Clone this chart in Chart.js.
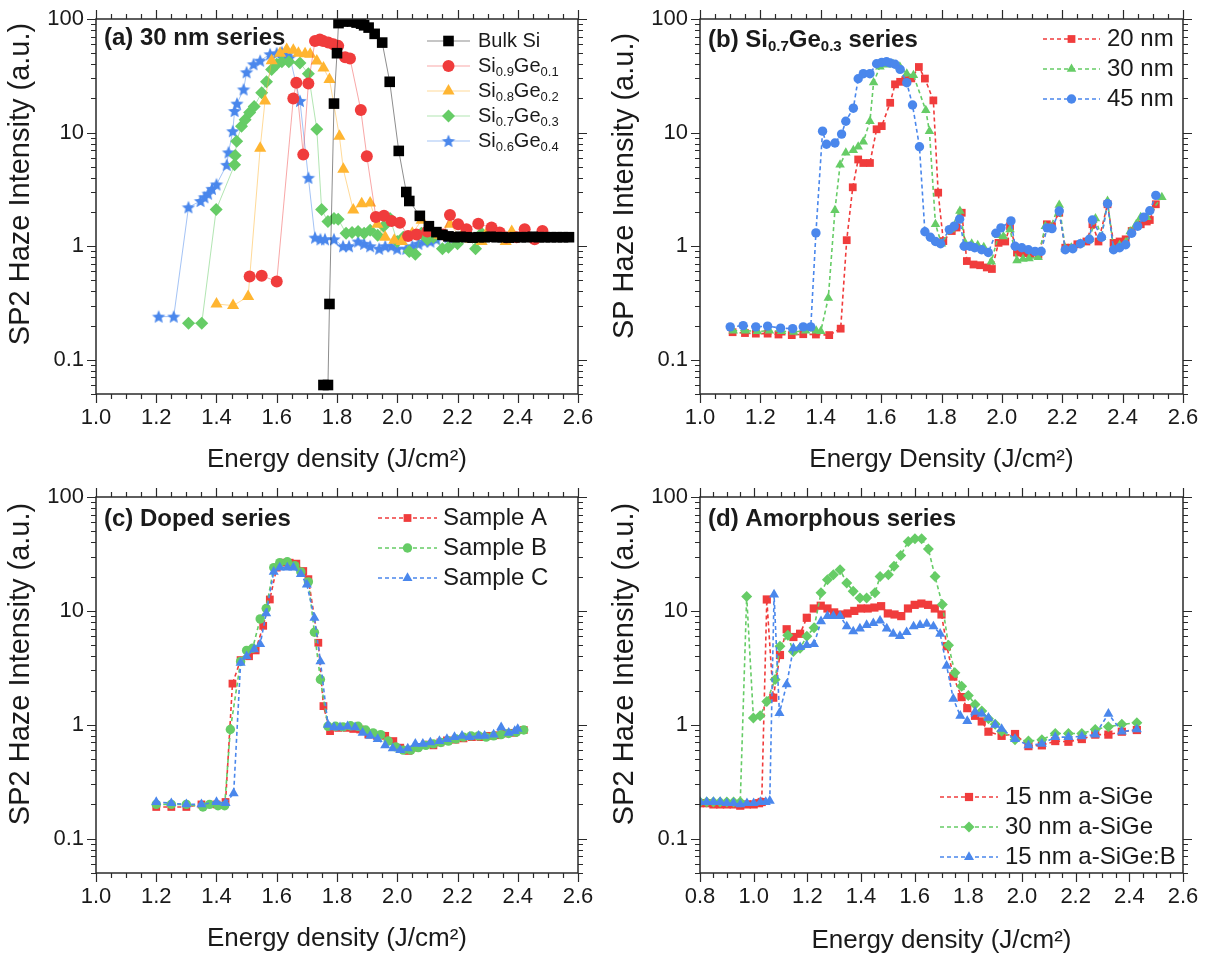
<!DOCTYPE html>
<html>
<head>
<meta charset="utf-8">
<title>SP2 haze intensity</title>
<script src="https://cdn.jsdelivr.net/npm/chart.js@4.4.1/dist/chart.umd.min.js"></script>
<style>
  body { margin: 0; background: #fff; }
  canvas { position: absolute; }
</style>
</head>
<body>
<canvas id="chartA" width="604" height="478" style="left:0;top:0"></canvas>
<canvas id="chartB" width="604" height="478" style="left:604px;top:0"></canvas>
<canvas id="chartC" width="604" height="478" style="left:0;top:478px"></canvas>
<canvas id="chartD" width="604" height="478" style="left:604px;top:478px"></canvas>
<script>
// tick values
const xTicksA = [1.0, 1.2, 1.4, 1.6, 1.8, 2.0, 2.2, 2.4, 2.6];
const xTicksD = [0.8, 1.0, 1.2, 1.4, 1.6, 1.8, 2.0, 2.2, 2.4, 2.6];
const yTicks = [0.1, 1, 10, 100];

// (a) 30 nm series
const aBulkX = [1.755,1.77,1.775,1.79,1.80,1.805,1.82,1.835,1.85,1.865,1.88,1.89,1.905,1.925,1.95,1.975,2.005,2.03,2.04,2.075,2.105,2.13,2.15,2.17,2.19,2.21,2.23,2.25,2.27,2.29,2.31,2.33,2.35,2.37,2.39,2.41,2.43,2.45,2.47,2.49,2.51,2.53,2.55,2.57];
const aBulkY = [0.06,0.06,0.31,18,50,92,95,96,95,93,91,88,84,74,62,28,6.9,3.0,2.5,1.85,1.5,1.33,1.26,1.22,1.2,1.21,1.2,1.19,1.2,1.2,1.21,1.2,1.2,1.19,1.2,1.2,1.2,1.21,1.2,1.2,1.2,1.2,1.2,1.2];
const aGe10X = [1.51,1.55,1.60,1.655,1.665,1.688,1.705,1.727,1.743,1.754,1.771,1.788,1.804,1.827,1.843,1.879,1.899,1.929,1.956,1.981,2.009,2.036,2.064,2.10,2.152,2.175,2.202,2.23,2.269,2.313,2.34,2.362,2.396,2.423,2.456,2.482];
const aGe10Y = [0.54,0.55,0.49,20,27.5,6.4,27,64,66,64,62,60,58,46,45,15.8,6.2,1.81,1.85,1.67,1.61,1.23,1.27,1.35,1.27,1.88,1.56,1.41,1.58,1.46,1.32,1.19,1.2,1.41,1.15,1.36];
const aGe20X = [1.40,1.455,1.505,1.545,1.561,1.583,1.611,1.633,1.655,1.672,1.694,1.711,1.733,1.755,1.775,1.808,1.821,1.854,1.882,1.91,1.934,1.96,1.99,2.015,2.05,2.081,2.114,2.14,2.175,2.21,2.245,2.28,2.30,2.33,2.36,2.38];
const aGe20Y = [0.31,0.30,0.36,7.3,19,43,50,54,53,50,49.5,49,42.6,37,29.4,9.3,4.75,2.08,2.37,2.4,1.56,1.2,1.13,1.1,1.3,1.69,1.36,1.25,1.56,1.2,1.15,1.1,1.35,1.2,1.1,1.35];
const aGe30X = [1.307,1.351,1.399,1.46,1.462,1.467,1.483,1.495,1.51,1.525,1.55,1.566,1.583,1.60,1.617,1.64,1.677,1.705,1.733,1.749,1.77,1.79,1.804,1.83,1.85,1.87,1.89,1.91,1.935,1.955,1.976,2.00,2.02,2.04,2.06,2.08,2.10,2.12,2.15,2.17,2.20,2.23,2.26,2.28];
const aGe30Y = [0.21,0.21,2.1,5.2,6.3,8.4,11.4,13,15,17,22.4,28,36,40,42,42,41,33,10.7,2.1,1.65,1.75,1.73,1.3,1.32,1.35,1.3,1.38,1.25,1.5,1.75,1.1,1.2,0.9,0.85,1.3,1.15,1.2,0.95,0.98,1.05,1.3,0.95,1.3];
const aGe40X = [1.208,1.258,1.307,1.347,1.36,1.372,1.385,1.40,1.434,1.44,1.454,1.46,1.468,1.49,1.50,1.523,1.545,1.578,1.60,1.617,1.633,1.644,1.677,1.705,1.727,1.745,1.76,1.79,1.82,1.84,1.87,1.89,1.91,1.94,1.96,1.98,2.00,2.03,2.05,2.07,2.09,2.11,2.13,2.15,2.17];
const aGe40Y = [0.24,0.24,2.2,2.5,2.7,2.9,3.2,3.5,5.2,6.7,10.3,15.5,18,24,34,40,43,49,50,51,48,46,19,4.0,1.19,1.15,1.15,1.15,1.0,1.0,1.1,1.05,1.0,0.95,1.0,1.0,0.95,0.95,1.0,1.05,1.1,1.1,1.15,1.25,1.2];

// (b) Si0.7Ge0.3 series
const b20X = [1.108,1.149,1.185,1.224,1.26,1.304,1.342,1.384,1.428,1.466,1.486,1.506,1.524,1.541,1.563,1.585,1.602,1.63,1.646,1.663,1.68,1.70,1.725,1.745,1.773,1.789,1.806,1.834,1.85,1.867,1.884,1.906,1.928,1.95,1.967,1.989,2.011,2.027,2.05,2.072,2.094,2.121,2.149,2.166,2.19,2.21,2.23,2.25,2.28,2.30,2.32,2.35,2.37,2.39,2.41,2.43,2.46,2.48,2.49,2.51];
const b20Y = [0.175,0.172,0.17,0.17,0.167,0.165,0.168,0.167,0.165,0.188,1.13,3.3,5.8,5.4,5.4,10.7,11.4,18.3,26.6,28,29,30,37.8,29.9,19.2,2.96,1.11,1.36,1.46,1.97,0.74,0.69,0.68,0.65,0.63,1.07,1.1,1.5,0.88,0.87,0.85,0.84,1.56,1.5,1.97,0.97,0.97,1.04,1.1,1.56,1.1,2.34,1.07,1.1,1.15,1.36,1.56,1.65,1.7,2.34];
const b30X = [1.11,1.15,1.19,1.23,1.27,1.31,1.35,1.385,1.40,1.425,1.447,1.464,1.483,1.508,1.524,1.541,1.563,1.575,1.596,1.618,1.64,1.662,1.685,1.707,1.748,1.76,1.78,1.80,1.83,1.861,1.878,1.90,1.92,1.94,1.965,1.989,2.005,2.027,2.05,2.07,2.09,2.12,2.144,2.16,2.19,2.21,2.23,2.26,2.29,2.31,2.33,2.35,2.37,2.39,2.41,2.425,2.445,2.46,2.48,2.53];
const b30Y = [0.18,0.18,0.178,0.18,0.178,0.176,0.18,0.18,0.178,0.35,2.07,5.2,6.65,7.0,7.5,8.3,12.6,27.6,38,39.5,40,38,33,32,15.7,10.3,1.56,1.05,1.4,2.04,1.07,1.05,1.02,0.98,0.73,1.25,1.22,1.4,0.75,0.77,0.78,0.8,1.5,1.45,2.3,0.95,0.97,1.05,1.15,1.75,1.2,2.5,0.95,1.02,1.08,1.35,1.56,1.8,1.8,2.7];
const b45X = [1.10,1.143,1.185,1.224,1.267,1.307,1.342,1.367,1.384,1.406,1.419,1.447,1.469,1.483,1.508,1.524,1.541,1.563,1.585,1.602,1.618,1.63,1.646,1.663,1.685,1.704,1.727,1.745,1.763,1.78,1.797,1.826,1.842,1.86,1.875,1.894,1.91,1.933,1.955,1.98,1.997,2.03,2.044,2.066,2.088,2.11,2.13,2.15,2.166,2.19,2.21,2.235,2.26,2.29,2.30,2.33,2.35,2.37,2.39,2.41,2.43,2.45,2.47,2.49,2.51];
const b45Y = [0.195,0.2,0.195,0.198,0.19,0.188,0.195,0.195,1.31,10.3,7.9,8.1,9.7,12.6,16.4,29.8,33,33,40.4,41.5,42,41,40,36,27.5,17.5,7.5,1.34,1.2,1.1,1.05,1.4,1.5,1.73,1.0,1.0,0.97,0.93,0.88,1.3,1.45,1.67,1.0,0.97,0.93,0.9,0.9,1.45,1.43,2.04,0.93,0.95,1.05,1.15,1.7,1.2,2.37,0.93,0.97,1.03,1.3,1.5,1.8,2.05,2.8];

// (c) doped series
const cAX = [1.2,1.25,1.3,1.35,1.40,1.43,1.453,1.48,1.508,1.53,1.555,1.577,1.60,1.62,1.643,1.665,1.688,1.705,1.738,1.755,1.777,1.804,1.832,1.854,1.877,1.904,1.932,1.96,1.987,2.01,2.037,2.065,2.093,2.12,2.143,2.165,2.193,2.22,2.248,2.276,2.303,2.331,2.359,2.387,2.42];
const cAY = [0.19,0.19,0.19,0.2,0.2,0.21,2.3,3.7,4.0,4.5,7.4,12.6,24,26.5,26.5,26,22.4,19,5.25,1.46,0.88,0.94,0.94,0.92,0.91,0.82,0.8,0.8,0.72,0.63,0.59,0.63,0.67,0.66,0.7,0.73,0.74,0.76,0.78,0.78,0.8,0.81,0.84,0.85,0.9];
const cBX = [1.2,1.25,1.3,1.355,1.377,1.405,1.427,1.446,1.48,1.50,1.52,1.545,1.565,1.59,1.61,1.635,1.66,1.68,1.705,1.725,1.745,1.77,1.795,1.82,1.845,1.87,1.895,1.92,1.945,1.97,1.995,2.02,2.045,2.07,2.095,2.12,2.145,2.17,2.195,2.22,2.245,2.27,2.295,2.32,2.345,2.37,2.395,2.42];
const cBY = [0.2,0.2,0.2,0.19,0.2,0.195,0.195,0.91,3.6,4.5,4.7,8.5,10.5,24,26.5,27,25,22,18,6.5,2.5,0.97,0.97,0.96,0.98,0.97,0.9,0.85,0.82,0.72,0.64,0.6,0.6,0.63,0.66,0.68,0.7,0.72,0.75,0.78,0.8,0.8,0.78,0.8,0.82,0.84,0.86,0.9];
const cCX = [1.2,1.25,1.30,1.35,1.40,1.43,1.457,1.48,1.50,1.525,1.545,1.565,1.59,1.61,1.635,1.655,1.68,1.70,1.725,1.745,1.77,1.79,1.81,1.835,1.86,1.885,1.91,1.935,1.96,1.985,2.01,2.035,2.06,2.085,2.11,2.14,2.165,2.19,2.215,2.24,2.27,2.29,2.32,2.345,2.37,2.39,2.40];
const cCY = [0.21,0.205,0.2,0.2,0.21,0.205,0.25,3.5,4.0,4.6,5.1,9.5,22,24,24,24,21,17,8.7,3.6,1.0,0.95,0.95,0.97,0.95,0.85,0.8,0.75,0.66,0.62,0.6,0.62,0.68,0.68,0.7,0.72,0.75,0.78,0.8,0.78,0.8,0.8,0.82,0.95,0.85,0.88,0.92];

// (d) amorphous series
const d15X = [0.80,0.825,0.85,0.875,0.90,0.925,0.95,0.975,1.0,1.02,1.03,1.049,1.073,1.098,1.123,1.148,1.173,1.198,1.224,1.25,1.275,1.30,1.325,1.35,1.375,1.40,1.425,1.45,1.475,1.50,1.525,1.55,1.575,1.60,1.625,1.65,1.675,1.70,1.72,1.744,1.775,1.796,1.825,1.85,1.875,1.924,1.974,2.024,2.074,2.124,2.173,2.223,2.273,2.322,2.372,2.428];
const d15Y = [0.205,0.205,0.2,0.2,0.2,0.2,0.195,0.2,0.2,0.205,0.21,12.6,1.73,4.1,6.9,5.9,6.3,8.7,10.5,11.1,10.5,9.7,9.3,9.5,10,10.5,10.5,10.7,11,9.5,9.3,9,10.5,11.3,11.6,11.3,10.5,9.3,4.9,2.65,1.75,1.4,1.2,1.07,0.87,0.8,0.83,0.65,0.66,0.72,0.71,0.75,0.82,0.82,0.87,0.9];
const d30X = [0.80,0.825,0.85,0.875,0.90,0.925,0.95,0.974,0.999,1.024,1.049,1.08,1.098,1.127,1.148,1.173,1.198,1.225,1.251,1.275,1.297,1.322,1.347,1.371,1.396,1.421,1.452,1.471,1.502,1.523,1.548,1.576,1.601,1.626,1.651,1.676,1.703,1.726,1.75,1.775,1.80,1.825,1.85,1.875,1.90,1.924,1.974,2.024,2.074,2.124,2.173,2.223,2.273,2.322,2.372,2.428];
const d30Y = [0.21,0.21,0.21,0.21,0.21,0.21,0.21,13.4,1.15,1.2,1.6,2.5,4.9,6.1,4.4,4.7,6.0,7.1,14.4,18.8,20.8,23,17.6,14.9,13,13,14.4,20,20.8,24.7,30.6,40.7,43,43,35,20,11.4,5.0,2.86,2.18,1.81,1.51,1.32,1.13,1.01,0.88,0.74,0.72,0.74,0.84,0.84,0.84,0.91,0.96,1.01,1.04];
const d15bX = [0.80,0.825,0.85,0.875,0.90,0.925,0.95,0.975,1.0,1.025,1.045,1.06,1.076,1.096,1.123,1.148,1.173,1.198,1.225,1.251,1.275,1.297,1.322,1.347,1.371,1.396,1.421,1.446,1.471,1.496,1.52,1.545,1.57,1.596,1.62,1.645,1.67,1.695,1.719,1.744,1.77,1.796,1.825,1.85,1.875,1.90,1.924,1.974,2.024,2.074,2.124,2.173,2.223,2.273,2.322,2.372,2.428];
const d15bY = [0.21,0.21,0.21,0.21,0.205,0.205,0.2,0.205,0.205,0.21,0.21,0.215,13.9,1.27,2.26,4.7,4.8,5.0,5.1,8.1,9.0,9.0,9.0,7.3,6.6,7.0,7.5,7.8,8.2,7.0,6.3,6.0,6.5,7.3,7.5,7.7,7.3,6.3,3.3,1.69,1.2,1.08,1.3,1.25,1.15,1.0,0.92,0.75,0.66,0.68,0.78,0.78,0.79,0.82,1.25,0.87,0.91];

const FONT = '"Liberation Sans", Arial, Helvetica, sans-serif';
const INK = '#1a1a1a';
const RED = '#f03c3c';
const GREEN = '#66cc66';
const BLUE = '#4a87ec';
const ORANGE = '#ffb531';
const BLACK = '#000000';

function starImage(color, r) {
  const c = document.createElement('canvas');
  c.width = c.height = 2 * r + 2;
  const g = c.getContext('2d');
  g.beginPath();
  for (let i = 0; i < 10; i++) {
    const rr = i % 2 ? r * 0.45 : r;
    const ang = -Math.PI / 2 + i * Math.PI / 5;
    g.lineTo(r + 1 + rr * Math.cos(ang), r + 1.6 + rr * Math.sin(ang));
  }
  g.closePath();
  g.fillStyle = color;
  g.fill();
  return c;
}

function pts(xs, ys) {
  return xs.map((x, i) => ({ x: x, y: ys[i] }));
}

function series(label, xs, ys, color, style, radius, line, order) {
  return {
    label: label,
    data: pts(xs, ys),
    showLine: true,
    borderColor: line.color,
    borderWidth: line.width,
    borderDash: line.dash,
    pointStyle: style,
    pointRadius: radius,
    pointHoverRadius: radius,
    pointBackgroundColor: color,
    pointBorderColor: color,
    pointBorderWidth: 0,
    order: order
  };
}

const solid = c => ({ color: c, width: 1, dash: [] });
const dashed = c => ({ color: c, width: 1.6, dash: [4, 3] });

// per panel texts and legend placement
const panels = {
  chartA: {
    title: [['(a) 30 nm series', 0]], tx: 104, ty: 38,
    yTitle: 'SP2 Haze Intensity (a.u.)', yx: 21, yy: 184,
    legend: { x0: 427, x1: 470, xt: 478, rows: [41, 66, 91, 116, 141], size: 20,
      labels: [[['Bulk Si', 0]],
               [['Si', 0], ['0.9', 1], ['Ge', 0], ['0.1', 1]],
               [['Si', 0], ['0.8', 1], ['Ge', 0], ['0.2', 1]],
               [['Si', 0], ['0.7', 1], ['Ge', 0], ['0.3', 1]],
               [['Si', 0], ['0.6', 1], ['Ge', 0], ['0.4', 1]]] }
  },
  chartB: {
    title: [['(b) Si', 0], ['0.7', 1], ['Ge', 0], ['0.3', 1], [' series', 0]], tx: 104, ty: 40,
    yTitle: 'SP Haze Intensity (a.u.)', yx: 21, yy: 186,
    legend: { x0: 439, x1: 496, xt: 503, rows: [39, 69, 99], size: 24,
      labels: [[['20 nm', 0]], [['30 nm', 0]], [['45 nm', 0]]] }
  },
  chartC: {
    title: [['(c) Doped series', 0]], tx: 104, ty: 41,
    yTitle: 'SP2 Haze Intensity (a.u.)', yx: 21, yy: 186,
    legend: { x0: 378, x1: 437, xt: 443, rows: [40, 70, 100], size: 24,
      labels: [[['Sample A', 0]], [['Sample B', 0]], [['Sample C', 0]]] }
  },
  chartD: {
    title: [['(d) Amorphous series', 0]], tx: 104, ty: 41,
    yTitle: 'SP2 Haze Intensity (a.u.)', yx: 21, yy: 186,
    legend: { x0: 336, x1: 394, xt: 401, rows: [319, 349, 379], size: 24,
      labels: [[['15 nm a-SiGe', 0]], [['30 nm a-SiGe', 0]], [['15 nm a-SiGe:B', 0]]] }
  }
};

function drawRich(ctx, segs, x, y, size, weight) {
  let cx = x;
  for (const [t, sub] of segs) {
    const fs = sub ? Math.round(size * 0.64) : size;
    ctx.font = weight + ' ' + fs + 'px ' + FONT;
    ctx.fillText(t, cx, sub ? y + size * 0.3 : y);
    cx += ctx.measureText(t).width;
  }
}

function drawMarker(ctx, ds, x, y) {
  ctx.fillStyle = ds.pointBackgroundColor;
  if (Chart.helpers && Chart.helpers.drawPoint) {
    Chart.helpers.drawPoint(ctx, { pointStyle: ds.pointStyle, radius: ds.pointRadius, rotation: 0, borderWidth: 0 }, x, y);
  } else {
    ctx.beginPath();
    ctx.arc(x, y, ds.pointRadius || 5, 0, Math.PI * 2);
    ctx.fill();
  }
}

const framePlugin = {
  id: 'frame',
  afterDraw(chart) {
    const cfg = panels[chart.canvas.id];
    const ctx = chart.ctx;
    const a = chart.chartArea;
    const xs = chart.scales.x;
    const ys = chart.scales.y;
    ctx.save();
    ctx.strokeStyle = '#2a2a2a';
    ctx.lineWidth = 1.5;
    ctx.strokeRect(a.left, a.top, a.right - a.left, a.bottom - a.top);

    // outward ticks on all four sides
    ctx.lineWidth = 1.2;
    ctx.beginPath();
    const n = Math.round((xs.max - xs.min) / 0.05);
    for (let i = 0; i <= n; i++) {
      const px = Math.round(xs.getPixelForValue(xs.min + i * 0.05)) + 0.5;
      const len = i % 4 === 0 ? 9 : 5;
      ctx.moveTo(px, a.bottom); ctx.lineTo(px, a.bottom + len);
      ctx.moveTo(px, a.top); ctx.lineTo(px, a.top - len);
    }
    for (let e = -2; e <= 2; e++) {
      for (let m = 1; m <= 9; m++) {
        const v = m * Math.pow(10, e);
        if (v < ys.min * 0.999 || v > ys.max * 1.001) continue;
        const py = Math.round(ys.getPixelForValue(v)) + 0.5;
        const len = m === 1 ? 9 : 5;
        ctx.moveTo(a.left, py); ctx.lineTo(a.left - len, py);
        ctx.moveTo(a.right, py); ctx.lineTo(a.right + len, py);
      }
    }
    ctx.stroke();

    ctx.fillStyle = INK;
    ctx.textBaseline = 'middle';
    ctx.textAlign = 'left';
    drawRich(ctx, cfg.title, cfg.tx, cfg.ty, 24, 'bold');

    // y axis title
    ctx.save();
    ctx.translate(cfg.yx, cfg.yy);
    ctx.rotate(-Math.PI / 2);
    ctx.textAlign = 'center';
    ctx.font = '29px ' + FONT;
    ctx.fillText(cfg.yTitle, 0, 0);
    ctx.restore();

    // legend: line sample, marker, label
    const lg = cfg.legend;
    chart.data.datasets.forEach((ds, i) => {
      const y = lg.rows[i];
      ctx.save();
      ctx.strokeStyle = ds.borderColor;
      ctx.lineWidth = ds.borderWidth;
      ctx.setLineDash(ds.borderDash || []);
      ctx.beginPath();
      ctx.moveTo(lg.x0, y); ctx.lineTo(lg.x1, y);
      ctx.stroke();
      ctx.restore();
      drawMarker(ctx, ds, (lg.x0 + lg.x1) / 2, y);
      ctx.fillStyle = INK;
      drawRich(ctx, lg.labels[i], lg.xt, y, lg.size, 'normal');
    });
    ctx.restore();
  }
};

// invisible tick marks only push the labels away from the frame
const hiddenTicks = len => ({ display: true, drawOnChartArea: false, drawTicks: true,
                              tickLength: len, color: 'rgba(0,0,0,0)' });

function makeChart(id, datasets, xmin, xticks, box, xTitle) {
  return new Chart(document.getElementById(id), {
    type: 'scatter',
    data: { datasets: datasets },
    options: {
      responsive: false,
      animation: false,
      devicePixelRatio: 1,
      events: [],
      layout: { padding: { left: 0, top: box.top, right: box.right, bottom: 0 } },
      plugins: { legend: { display: false }, tooltip: { enabled: false } },
      scales: {
        x: {
          type: 'linear', min: xmin, max: 2.6,
          afterBuildTicks: s => { s.ticks = xticks.map(v => ({ value: v })); },
          afterFit: s => { s.height = box.xh; },
          grid: hiddenTicks(11),
          border: { display: false },
          ticks: { padding: 0, color: INK, autoSkip: false, maxRotation: 0,
                   font: { family: FONT, size: 22 }, callback: v => v.toFixed(1) },
          title: { display: true, text: xTitle, color: INK,
                   font: { family: FONT, size: 26 }, padding: { top: 0, bottom: box.tb } }
        },
        y: {
          type: 'logarithmic', min: 0.05, max: 100,
          afterBuildTicks: s => { s.ticks = yTicks.map(v => ({ value: v })); },
          afterFit: s => { s.width = 96; },
          grid: hiddenTicks(12),
          border: { display: false },
          ticks: { padding: 0, color: INK, autoSkip: false,
                   font: { family: FONT, size: 22 }, callback: v => String(v) }
        }
      }
    },
    plugins: [framePlugin]
  });
}

const star = starImage(BLUE, 7);

makeChart('chartA', [
  series('Bulk Si', aBulkX, aBulkY, BLACK, 'rect', 7.5, solid('rgba(0,0,0,0.45)'), 0),
  series('Si0.9Ge0.1', aGe10X, aGe10Y, RED, 'circle', 6, solid('rgba(240,60,60,0.45)'), 1),
  series('Si0.8Ge0.2', aGe20X, aGe20Y, ORANGE, 'triangle', 7, solid('rgba(255,181,49,0.5)'), 2),
  series('Si0.7Ge0.3', aGe30X, aGe30Y, GREEN, 'rectRot', 6.5, solid('rgba(102,204,102,0.5)'), 3),
  series('Si0.6Ge0.4', aGe40X, aGe40Y, BLUE, star, 6, solid('rgba(74,135,236,0.5)'), 4)
], 1.0, xTicksA, { top: 19, right: 26, xh: 84, tb: 3 }, 'Energy density (J/cm²)');

makeChart('chartB', [
  series('20 nm', b20X, b20Y, RED, 'rect', 5.5, dashed(RED), 2),
  series('30 nm', b30X, b30Y, GREEN, 'triangle', 5.5, dashed(GREEN), 1),
  series('45 nm', b45X, b45Y, BLUE, 'circle', 4.7, dashed(BLUE), 0)
], 1.0, xTicksA, { top: 19, right: 25, xh: 84, tb: 3 }, 'Energy Density (J/cm²)');

makeChart('chartC', [
  series('Sample A', cAX, cAY, RED, 'rect', 5.5, dashed(RED), 2),
  series('Sample B', cBX, cBY, GREEN, 'circle', 4.7, dashed(GREEN), 1),
  series('Sample C', cCX, cCY, BLUE, 'triangle', 5.8, dashed(BLUE), 0)
], 1.0, xTicksA, { top: 19, right: 26, xh: 83, tb: 2 }, 'Energy density (J/cm²)');

makeChart('chartD', [
  series('15 nm a-SiGe', d15X, d15Y, RED, 'rect', 5.8, dashed(RED), 2),
  series('30 nm a-SiGe', d30X, d30Y, GREEN, 'rectRot', 5.5, dashed(GREEN), 1),
  series('15 nm a-SiGe:B', d15bX, d15bY, BLUE, 'triangle', 5.8, dashed(BLUE), 0)
], 0.8, xTicksD, { top: 19, right: 25, xh: 83, tb: 0 }, 'Energy density (J/cm²)');
</script>
</body>
</html>
